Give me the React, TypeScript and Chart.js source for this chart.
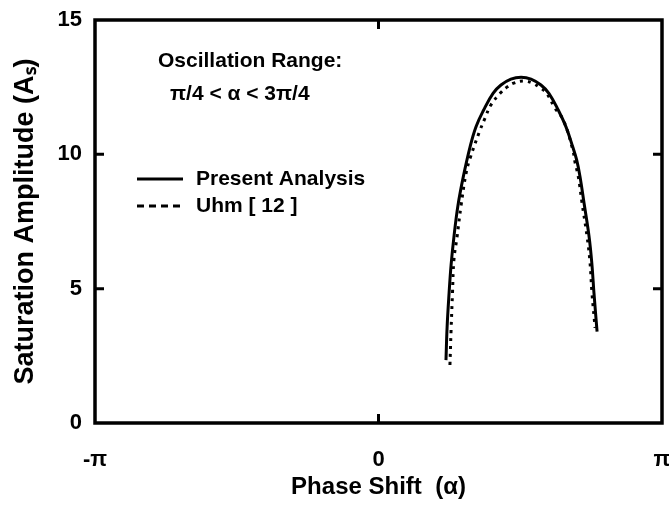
import React, { useEffect, useRef } from "react";
import { Chart, registerables } from "chart.js";

Chart.register(...registerables);

// x values are expressed in units of π
const xTickValues = [-1, 0, 1];
const xTickLabels = ["-π", "0", "π"];
const yTickValues = [0, 5, 10, 15];

const presentAlpha = [0.238, 0.242, 0.249, 0.256, 0.266, 0.280, 0.299, 0.323, 0.344, 0.371, 0.404, 0.432, 0.467, 0.503, 0.538, 0.573, 0.601, 0.634, 0.661, 0.685, 0.699, 0.711, 0.725, 0.743, 0.753, 0.760, 0.771];
const presentAmp = [2.34, 3.57, 4.84, 5.88, 6.92, 8.08, 9.16, 10.28, 11.03, 11.65, 12.27, 12.58, 12.80, 12.87, 12.80, 12.58, 12.27, 11.65, 11.03, 10.28, 9.79, 9.16, 8.19, 6.92, 5.88, 4.84, 3.40];

const uhmAlpha = [0.252, 0.256, 0.261, 0.266, 0.277, 0.291, 0.309, 0.323, 0.356, 0.376, 0.396, 0.429, 0.453, 0.477, 0.513, 0.543, 0.567, 0.593, 0.623, 0.652, 0.685, 0.693, 0.705, 0.718, 0.736, 0.746, 0.753, 0.764];
const uhmAmp = [2.16, 3.46, 4.84, 6.07, 6.92, 8.08, 9.30, 9.85, 10.84, 11.35, 11.83, 12.27, 12.50, 12.65, 12.73, 12.65, 12.50, 12.27, 11.71, 11.28, 10.19, 9.72, 9.16, 8.19, 6.92, 5.99, 4.84, 3.54];

const seriesNames = ["Present Analysis", "Uhm [ 12 ]"];
const annotationLines = ["Oscillation Range:", "π/4 < α < 3π/4"];

const FONT = "'Liberation Sans', Arial, sans-serif";

const framePlugin = {
  id: "framePlugin",
  afterDraw(chart: any) {
    const ctx = chart.ctx;
    const { left, right, top, bottom } = chart.chartArea;
    const xs = chart.scales.x;
    const ys = chart.scales.y;
    ctx.save();
    ctx.strokeStyle = "#000";
    ctx.lineWidth = 3.5;
    ctx.strokeRect(left, top, right - left, bottom - top);
    ctx.lineWidth = 3;
    const tl = 9;
    yTickValues.forEach((v) => {
      if (v === ys.min || v === ys.max) return;
      const y = ys.getPixelForValue(v);
      ctx.beginPath();
      ctx.moveTo(left, y);
      ctx.lineTo(left + tl, y);
      ctx.moveTo(right, y);
      ctx.lineTo(right - tl, y);
      ctx.stroke();
    });
    xTickValues.forEach((v) => {
      if (v === xs.min || v === xs.max) return;
      const x = xs.getPixelForValue(v);
      ctx.beginPath();
      ctx.moveTo(x, bottom);
      ctx.lineTo(x, bottom - tl);
      ctx.moveTo(x, top);
      ctx.lineTo(x, top + tl);
      ctx.stroke();
    });

    // annotation
    ctx.fillStyle = "#000";
    ctx.textBaseline = "middle";
    ctx.textAlign = "left";
    ctx.font = `bold 21px ${FONT}`;
    ctx.fillText(annotationLines[0], 158, 61);
    ctx.fillText(annotationLines[1], 170, 94);

    // legend
    const lx0 = 137;
    const lx1 = 183;
    ctx.lineWidth = 3;
    ctx.beginPath();
    ctx.moveTo(lx0, 179);
    ctx.lineTo(lx1, 179);
    ctx.stroke();
    ctx.setLineDash([7, 5]);
    ctx.beginPath();
    ctx.moveTo(lx0, 206);
    ctx.lineTo(lx1, 206);
    ctx.stroke();
    ctx.setLineDash([]);
    ctx.font = `bold 21px ${FONT}`;
    ctx.fillText(seriesNames[0], 196, 179);
    ctx.fillText(seriesNames[1], 196, 206);
    ctx.restore();
  },
};

export default function App() {
  const ref = useRef<HTMLCanvasElement | null>(null);
  useEffect(() => {
    if (!ref.current) return;
    const chart = new Chart(ref.current, {
      type: "line",
      data: {
        datasets: [
          {
            label: seriesNames[0],
            data: presentAlpha.map((x, i) => ({ x, y: presentAmp[i] })),
            borderColor: "#000",
            borderWidth: 3,
            pointRadius: 0,
            tension: 0.4,
            fill: false,
          },
          {
            label: seriesNames[1],
            data: uhmAlpha.map((x, i) => ({ x, y: uhmAmp[i] })),
            borderColor: "#000",
            borderWidth: 3,
            borderDash: [3, 5],
            pointRadius: 0,
            tension: 0.4,
            fill: false,
          },
        ],
      },
      options: {
        animation: false,
        responsive: false,
        layout: { padding: { left: 0, right: 7, top: 20, bottom: 0 } },
        plugins: { legend: { display: false }, tooltip: { enabled: false } },
        scales: {
          x: {
            type: "linear",
            min: -1,
            max: 1,
            grid: { display: false, drawTicks: false },
            border: { display: false },
            afterBuildTicks: (s: any) => {
              s.ticks = xTickValues.map((v) => ({ value: v }));
            },
            afterFit: (s: any) => {
              s.height = 87;
              s.paddingLeft = 0;
              s.paddingRight = 0;
            },
            ticks: {
              color: "#000",
              padding: 24,
              maxRotation: 0,
              font: { family: FONT, size: 22, weight: "bold" },
              callback: (v: any) => {
                const i = xTickValues.indexOf(Number(v));
                return i >= 0 ? xTickLabels[i] : "";
              },
            },
            title: {
              display: true,
              text: "Phase Shift  (α)",
              color: "#000",
              font: { family: FONT, size: 24, weight: "bold" },
              padding: { top: 0, bottom: 8 },
            },
          },
          y: {
            type: "linear",
            min: 0,
            max: 15,
            grid: { display: false, drawTicks: false },
            border: { display: false },
            afterBuildTicks: (s: any) => {
              s.ticks = yTickValues.map((v) => ({ value: v }));
            },
            afterFit: (s: any) => {
              s.width = 95;
              s.paddingTop = 0;
              s.paddingBottom = 0;
            },
            ticks: {
              color: "#000",
              padding: 13,
              font: { family: FONT, size: 22, weight: "bold" },
            },
            title: {
              display: true,
              text: "Saturation Amplitude (Aₛ)",
              color: "#000",
              font: { family: FONT, size: 27, weight: "bold" },
              padding: { top: 9, bottom: 0 },
            },
          },
        },
      },
      plugins: [framePlugin],
    });
    return () => chart.destroy();
  }, []);
  return (
    <div style={{ position: "fixed", left: 0, top: 0, width: 669, height: 510, background: "#fff" }}>
      <canvas ref={ref} width={669} height={510} style={{ display: "block" }} />
    </div>
  );
}
